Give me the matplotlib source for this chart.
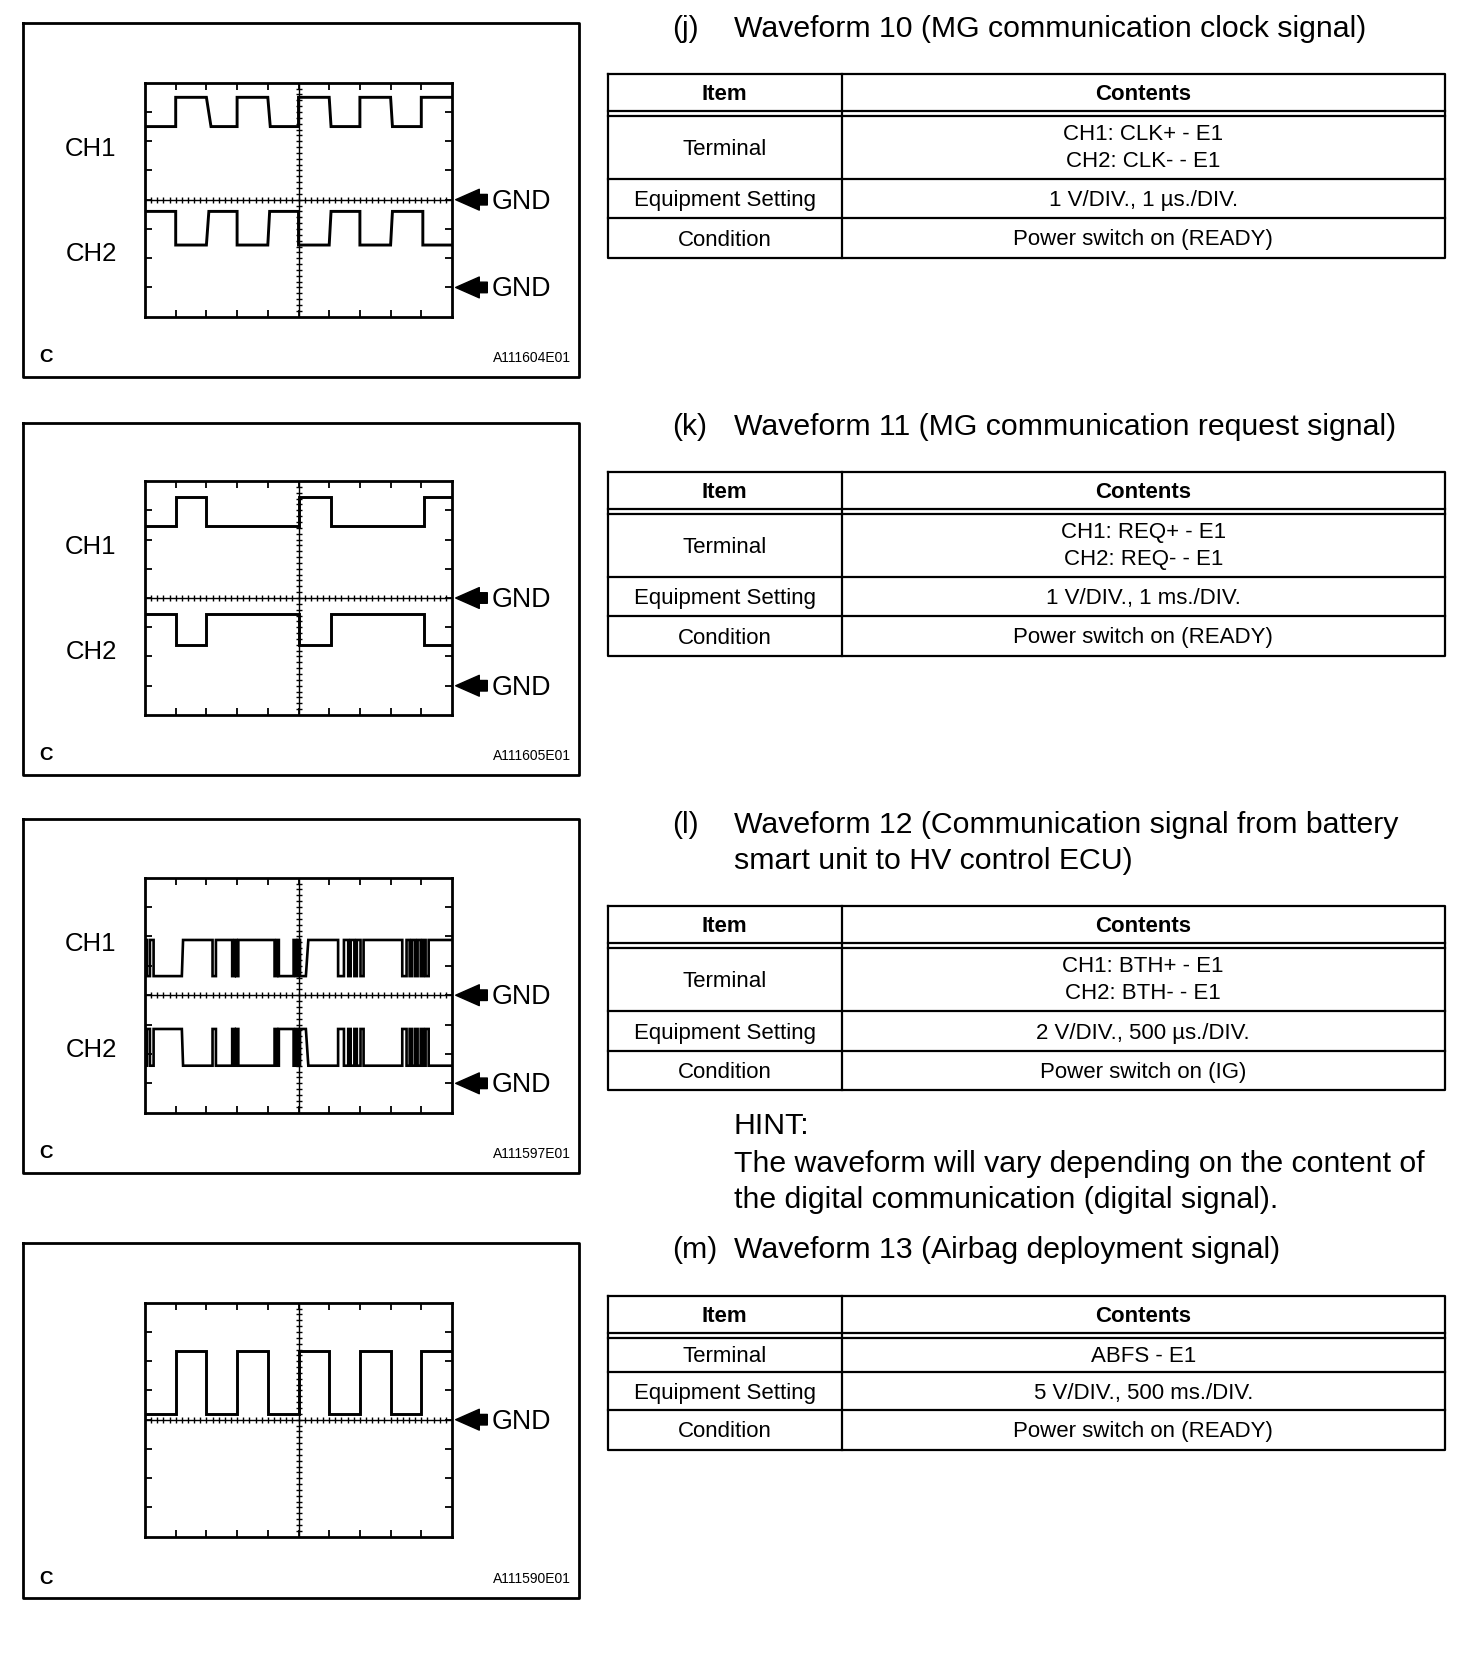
import numpy as np
import matplotlib.pyplot as plt

plt.rcParams['font.family'] = ['Liberation Sans', 'DejaVu Sans']

W, H = 1472, 1672

# ---------------- waveform data (x: divisions 0..10, y: divisions 0..8)
# edges: switching times (a tuple = slanted edge start/end)
# levels: [level at the left edge, the other level]
w10_ch1_edges = [1.0, (2.0, 2.15), 3.0, (4.0, 4.08), 5.0, (6.0, 6.06), 7.0, (8.0, 8.06), 9.0]
w10_ch1_levels = [6.5, 7.5]
w10_ch2_edges = [1.0, (2.0, 2.08), 3.0, (4.0, 4.06), 5.0, (6.0, 6.06), 7.0, (8.0, 8.06), 9.05]
w10_ch2_levels = [3.6, 2.45]

w11_ch1_edges = [1.0, 2.0, 5.0, 6.05, 9.1]
w11_ch1_levels = [6.45, 7.45]
w11_ch2_edges = [1.0, 2.0, 5.0, 6.05, 9.1]
w11_ch2_levels = [3.45, 2.4]

w12_ch1_edges = [0.06, 0.16, 0.28, (1.2, 1.24), 2.20, 2.31, 2.84, 2.92, 2.97, 3.04,
                 4.22, 4.30, 4.36, 4.84, 4.92, 4.98, 5.05, (5.24, 5.32), 6.29,
                 6.48, 6.62, 6.70, 6.82, 6.90, 7.02, 7.12,
                 8.38, 8.52, 8.62, 8.70, 8.80, 8.88, 8.98, 9.06, 9.14, 9.24]
w12_ch1_levels = [5.88, 4.65]
# CH2 switches at the same moments as CH1, inverted
w12_ch2_edges = [0.06, 0.16, 0.28, (1.2, 1.24), 2.20, 2.31, 2.84, 2.92, 2.97, 3.04,
                 4.22, 4.30, 4.36, 4.84, 4.92, 4.98, 5.05, (5.24, 5.32), 6.29,
                 6.48, 6.62, 6.70, 6.82, 6.90, 7.02, 7.12,
                 8.38, 8.52, 8.62, 8.70, 8.80, 8.88, 8.98, 9.06, 9.14, 9.24]
w12_ch2_levels = [1.6, 2.85]

w13_edges = [1.0, 2.0, 3.0, 4.0, 5.0, 6.0, 7.0, 8.0, 9.0]
w13_levels = [4.2, 6.35]

gnd_two = [4, 1]
gnd_one = [4]

codes = ["A111604E01", "A111605E01", "A111597E01", "A111590E01"]

# ---------------- text data
letters = ["(j)", "(k)", "(l)", "(m)"]
titles = [["Waveform 10 (MG communication clock signal)"],
          ["Waveform 11 (MG communication request signal)"],
          ["Waveform 12 (Communication signal from battery", "smart unit to HV control ECU)"],
          ["Waveform 13 (Airbag deployment signal)"]]
hint = ["HINT:", "The waveform will vary depending on the content of",
        "the digital communication (digital signal)."]

items = ["Terminal", "Equipment Setting", "Condition"]
contents_j = [["CH1: CLK+ - E1", "CH2: CLK- - E1"], ["1 V/DIV., 1 \u00b5s./DIV."], ["Power switch on (READY)"]]
contents_k = [["CH1: REQ+ - E1", "CH2: REQ- - E1"], ["1 V/DIV., 1 ms./DIV."], ["Power switch on (READY)"]]
contents_l = [["CH1: BTH+ - E1", "CH2: BTH- - E1"], ["2 V/DIV., 500 \u00b5s./DIV."], ["Power switch on (IG)"]]
contents_m = [["ABFS - E1"], ["5 V/DIV., 500 ms./DIV."], ["Power switch on (READY)"]]

# ---------------- layout (pixels)
box_x = (23, 579)
box_y = [(23, 377), (422.5, 775), (818.5, 1173), (1243, 1598)]
grid_x = (145, 452)
grid_y = [(82.7, 316.7), (481, 715), (877.7, 1112.7), (1302.7, 1536.7)]
head_y = [29, 427, 825, 1249.5]
tab_x = (608, 841.5, 1445)
tab_top = [74, 472, 906, 1296]
tab_dbl = [111, 509, 943, 1333]
tab_rows = [[179, 218, 258], [577, 616, 656], [1011, 1051, 1089.5], [1372, 1410, 1449.5]]
hint_y = [1126.5, 1163.5, 1199.5]
dy = 2.0  # text nudge down (px)

fig = plt.figure(figsize=(W / 100, H / 100), dpi=100)
fig.patch.set_facecolor('white')
bg = fig.add_axes([0, 0, 1, 1])
bg.set_xlim(0, W)
bg.set_ylim(H, 0)
bg.axis('off')


def trace(edges, levels):
    xs, ys = [0.0], [levels[0]]
    k = 0
    for e in edges:
        t0, t1 = e if isinstance(e, tuple) else (e, e)
        xs += [t0, t1]
        ys += [levels[k], levels[1 - k]]
        k = 1 - k
    xs.append(10.0)
    ys.append(levels[k])
    return xs, ys


def scope(i):
    top, bot = grid_y[i]
    x0, x1 = grid_x
    ax = fig.add_axes([x0 / W, 1 - bot / H, (x1 - x0) / W, (bot - top) / H])
    ax.set_xlim(0, 10)
    ax.set_ylim(0, 8)
    for s in ax.spines.values():
        s.set_linewidth(2.0)
    ax.set_xticks(range(1, 10))
    ax.set_yticks(range(1, 8))
    ax.tick_params(direction='in', length=5, width=1.3, top=True, right=True,
                   labelbottom=False, labelleft=False)
    ax.axhline(4, color='k', lw=1.0)
    ax.axvline(5, color='k', lw=1.0)
    mx = np.arange(0.2, 10, 0.2)
    my = np.arange(0.2, 8, 0.2)
    ax.plot(mx, np.full_like(mx, 4), ls='none', marker='|', ms=5, mew=1, color='k')
    ax.plot(np.full_like(my, 5), my, ls='none', marker='_', ms=5, mew=1, color='k')
    # outer frame
    bx0, bx1 = box_x
    by0, by1 = box_y[i]
    bg.plot([bx0, bx1, bx1, bx0, bx0], [by0, by0, by1, by1, by0], color='k', lw=2.0)
    bg.text(46, by1 - 21 + dy, "C", fontsize=13.5, fontweight='bold', ha='center', va='center')
    bg.text(571, by1 - 21 + dy, codes[i], fontsize=10, ha='right', va='center')
    return ax


def gnd(ax, levels):
    for g in levels:
        ax.annotate('', xy=(10.12, g), xytext=(11.15, g), annotation_clip=False,
                    arrowprops=dict(arrowstyle='simple,head_length=0.85,head_width=0.75,tail_width=0.38',
                                    fc='k', ec='k', shrinkA=0, shrinkB=0, mutation_scale=20))
        ax.text(11.28, g - 0.07, "GND", fontsize=19.3, ha='left', va='center', clip_on=False)


def ch_labels(ax):
    ax.text(-1.76, 5.73, "CH1", fontsize=18.5, ha='center', va='center', clip_on=False)
    ax.text(-1.76, 2.15, "CH2", fontsize=18.5, ha='center', va='center', clip_on=False)


waves = [
    [(w10_ch1_edges, w10_ch1_levels), (w10_ch2_edges, w10_ch2_levels)],
    [(w11_ch1_edges, w11_ch1_levels), (w11_ch2_edges, w11_ch2_levels)],
    [(w12_ch1_edges, w12_ch1_levels), (w12_ch2_edges, w12_ch2_levels)],
    [(w13_edges, w13_levels)],
]

for i, tr in enumerate(waves):
    ax = scope(i)
    for edges, levels in tr:
        xs, ys = trace(edges, levels)
        ax.plot(xs, ys, color='k', lw=2.1 if i != 2 else 1.9, solid_joinstyle='miter')
    if len(tr) == 2:
        gnd(ax, gnd_two)
        ch_labels(ax)
    else:
        gnd(ax, gnd_one)

# headings
for i in range(4):
    bg.text(672, head_y[i], letters[i], fontsize=21.8, ha='left', va='center')
    for j, line in enumerate(titles[i]):
        bg.text(734, head_y[i] + j * 36.3, line, fontsize=21.8, ha='left', va='center')

for j, line in enumerate(hint):
    bg.text(734, hint_y[j], line, fontsize=21.8, ha='left', va='center')


# tables
def table(i, contents):
    xl, xm, xr = tab_x
    top = tab_top[i]
    dbl = tab_dbl[i]
    rows = tab_rows[i]
    bot = rows[-1]
    lw = 1.6
    bg.plot([xl, xr, xr, xl, xl], [top, top, bot, bot, top], color='k', lw=lw)
    bg.plot([xm, xm], [top, bot], color='k', lw=lw)
    bg.plot([xl, xr], [dbl, dbl], color='k', lw=lw)
    bg.plot([xl, xr], [dbl + 5, dbl + 5], color='k', lw=lw)
    for yb in rows[:-1]:
        bg.plot([xl, xr], [yb, yb], color='k', lw=lw)
    c1 = (xl + xm) / 2
    c2 = (xm + xr) / 2
    bg.text(c1, (top + dbl) / 2 + dy, "Item", fontsize=16, fontweight='bold', ha='center', va='center')
    bg.text(c2, (top + dbl) / 2 + dy, "Contents", fontsize=16, fontweight='bold', ha='center', va='center')
    ytop = dbl + 5
    for r, yb in enumerate(rows):
        yc = (ytop + yb) / 2 + dy
        bg.text(c1, yc, items[r], fontsize=16, ha='center', va='center')
        lines = contents[r]
        n = len(lines)
        for k, line in enumerate(lines):
            bg.text(c2, yc + (k - (n - 1) / 2) * 27.7 - (1.5 if n > 1 else 0), line,
                    fontsize=16, ha='center', va='center')
        ytop = yb


table(0, contents_j)
table(1, contents_k)
table(2, contents_l)
table(3, contents_m)

fig.savefig('out.png', dpi=100, facecolor='white')
